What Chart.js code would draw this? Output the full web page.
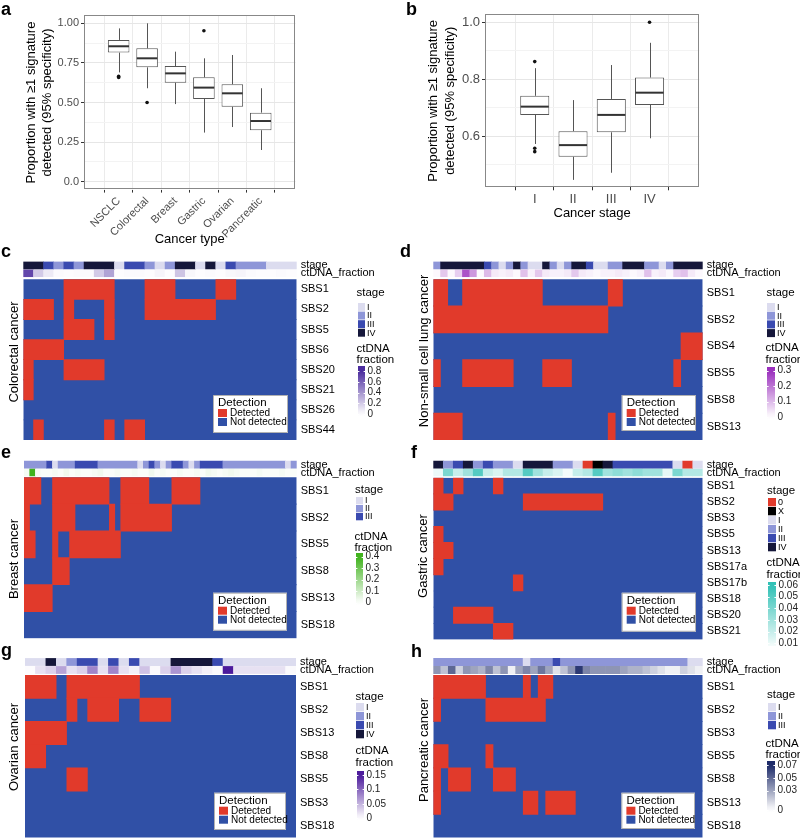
<!DOCTYPE html>
<html>
<head>
<meta charset="utf-8">
<title>Signature detection in ctDNA</title>
<script src="https://cdn.jsdelivr.net/npm/chart.js@4.4.1/dist/chart.umd.min.js"></script>
<style>
  html, body { margin: 0; background: #fff; }
  #fig { position: relative; width: 800px; height: 838px; overflow: hidden; }
  #fig canvas { position: absolute; }
  .tag { position: absolute; font: bold 18px "Liberation Sans", Arial, sans-serif; line-height: 18px; color: #000; }
</style>
</head>
<body>
<div id="fig"></div>
<script>
/* ═══════════════════════════════════════════════
   Mutational signatures detected in ctDNA
   a/b: boxplots, c-h: detection heatmaps
═══════════════════════════════════════════════ */

// ── a: by cancer type ──────────────────────────
const A_TYPES = ['NSCLC', 'Colorectal', 'Breast', 'Gastric', 'Ovarian', 'Pancreatic'];
const A_MIN = [0.69, 0.59, 0.49, 0.31, 0.345, 0.20];
const A_Q1  = [0.815, 0.722, 0.625, 0.522, 0.473, 0.325];
const A_MED = [0.855, 0.779, 0.684, 0.594, 0.558, 0.383];
const A_Q3  = [0.895, 0.842, 0.730, 0.659, 0.615, 0.436];
const A_MAX = [0.968, 1.0, 0.821, 0.779, 0.80, 0.59];
const A_OUT_TYPE = ['NSCLC', 'NSCLC', 'Colorectal', 'Gastric'];
const A_OUT_VAL  = [0.665, 0.658, 0.50, 0.953];
const A_YTICKS  = [0, 0.25, 0.5, 0.75, 1];
const A_YLABELS = ['0.0', '0.25', '0.50', '0.75', '1.00'];
const A_YMINOR  = [0.125, 0.375, 0.625, 0.875];

// ── b: by cancer stage ─────────────────────────
const B_STAGES = ['I', 'II', 'III', 'IV'];
const B_MIN = [0.573, 0.447, 0.472, 0.593];
const B_Q1  = [0.675, 0.528, 0.614, 0.71];
const B_MED = [0.704, 0.569, 0.675, 0.753];
const B_Q3  = [0.742, 0.618, 0.731, 0.806];
const B_MAX = [0.839, 0.727, 0.850, 0.928];
const B_OUT_STAGE = ['I', 'I', 'I', 'IV'];
const B_OUT_VAL   = [0.862, 0.558, 0.546, 1.0];
const B_YTICKS  = [0.6, 0.8, 1.0];
const B_YLABELS = ['0.6', '0.8', '1.0'];
const B_YMINOR  = [0.5, 0.7, 0.9];

const Y_TITLE = ['Proportion with \u22651 signature', 'detected (95% specificity)'];

// ── heatmaps: rows, per-sample stage / ctDNA, detected runs [row, firstCol, lastCol] ──
const C_ROWS = ['SBS1', 'SBS2', 'SBS5', 'SBS6', 'SBS20', 'SBS21', 'SBS26', 'SBS44'];
const C_STAGE = ['IV','IV','III','II','III','II','IV','IV','IV','I','III','III','II','I','II',
                 'IV','IV','I','IV','I','III','II','II','II','I','I','I'];
const C_FRAC = [0.7,0.2,0.08,0.02,0.01,0.02,0.02,0.2,0.35,0.01,0.02,0.02,0.01,0.04,0.01,
                0.22,0.03,0.01,0.02,0.01,0.03,0.04,0.02,0.01,0.01,0.02,0.01];
const C_HITS = [['SBS1',4,8],['SBS1',12,14],['SBS1',19,20],
                ['SBS2',0,2],['SBS2',4,4],['SBS2',8,8],['SBS2',12,18],
                ['SBS5',4,6],['SBS5',8,8],['SBS6',0,3],['SBS20',0,0],['SBS20',4,7],
                ['SBS21',0,0],['SBS44',1,1],['SBS44',8,8],['SBS44',10,11]];
const C_FRAC_TICKS = [0, 0.2, 0.4, 0.6, 0.8];

const D_ROWS = ['SBS1', 'SBS2', 'SBS4', 'SBS5', 'SBS8', 'SBS13'];
const D_STAGE = ['II','IV','IV','IV','IV','IV','IV','III','II','I','II','IV','II','I','I','IV',
                 'II','I','II','IV','IV','III','I','I','II','II','IV','IV','IV','II','II','I',
                 'II','IV','IV','IV','IV'];
const D_FRAC = [0.01,0.08,0.01,0.07,0.25,0.15,0.01,0.1,0.03,0.02,0.03,0.01,0.09,0.02,0.08,0.03,
                0.02,0.02,0.03,0.08,0.03,0.02,0.01,0.02,0.02,0.03,0.02,0.01,0.02,0.09,0.02,0.03,
                0.01,0.07,0.09,0.03,0.01];
const D_HITS = [['SBS1',0,1],['SBS1',4,14],['SBS1',24,25],['SBS2',0,23],['SBS4',34,36],
                ['SBS5',0,0],['SBS5',4,10],['SBS5',15,18],['SBS5',33,33],
                ['SBS13',0,3],['SBS13',24,24]];
const D_FRAC_TICKS = [0, 0.1, 0.2, 0.3];

const E_ROWS = ['SBS1', 'SBS2', 'SBS5', 'SBS8', 'SBS13', 'SBS18'];
const E_STAGE = ['II','II','II','II','III','I','II','II','II','III','III','III','III',
                 'II','II','II','II','II','II','II','I','II','III','II','I','II','III','III',
                 'II','I','II','III','III','III','III',
                 'II','II','II','II','II','II','II','II','II','II','II','I','II'];
const E_FRAC = [0.02,0.4,0.02,0.01,0.01,0.02,0.01,0.03,0.01,0.02,0.01,0.01,
                0.02,0.03,0.01,0.01,0.02,0.01,0.01,0.02,0.01,0.01,0.03,0.01,
                0.02,0.01,0.01,0.02,0.01,0.01,0.02,0.01,0.03,0.02,0.01,0.02,
                0.03,0.02,0.01,0.01,0.01,0.02,0.01,0.01,0.01,0.02,0.01,0.01];
const E_HITS = [['SBS1',0,2],['SBS1',5,14],['SBS1',17,21],['SBS1',26,30],
                ['SBS2',0,0],['SBS2',5,8],['SBS2',15,15],['SBS2',17,25],
                ['SBS5',0,1],['SBS5',5,5],['SBS5',8,16],['SBS8',5,7],['SBS13',0,4]];
const E_FRAC_TICKS = [0, 0.1, 0.2, 0.3, 0.4];

const F_ROWS = ['SBS1','SBS2','SBS3','SBS5','SBS13','SBS17a','SBS17b','SBS18','SBS20','SBS21'];
const F_STAGE = ['IV','II','III','IV','II','III','II','II','I','IV','IV','IV','II','II','I',
                 '0','X','IV','III','III','III','III','III','III','I','0','I'];
const F_FRAC = [0.01,0.04,0.02,0.03,0.05,0.02,0.015,0.025,0.025,0.05,0.03,0.02,0.015,0.008,
                0.02,0.025,0.05,0.03,0.035,0.03,0.035,0.03,0.03,0.012,0.04,0.025,0.025];
const F_HITS = [['SBS1',0,0],['SBS1',2,2],['SBS1',6,6],['SBS2',0,1],['SBS2',9,16],
                ['SBS5',0,0],['SBS13',0,1],['SBS17a',0,0],['SBS17b',8,8],
                ['SBS20',2,5],['SBS21',6,7]];
const F_FRAC_TICKS = [0.01, 0.02, 0.03, 0.04, 0.05, 0.06];

const G_ROWS = ['SBS1', 'SBS2', 'SBS13', 'SBS8', 'SBS5', 'SBS3', 'SBS18'];
const G_STAGE = ['I','I','IV','I','II','III','III','I','III','I','III','I','I','I',
                 'IV','IV','IV','IV','III','I','I','I','I','I','I','I'];
const G_FRAC = [0.002,0.02,0.03,0.06,0.02,0.03,0.08,0.02,0.08,0.02,0.01,0.04,0.004,
                0.03,0.07,0.03,0.02,0.01,0.004,0.15,0.02,0.02,0.02,0.02,0.02,0.004];
const G_HITS = [['SBS1',0,2],['SBS1',4,10],['SBS2',4,4],['SBS2',6,8],['SBS2',11,13],
                ['SBS13',0,3],['SBS8',0,1],['SBS5',4,5]];
const G_FRAC_TICKS = [0, 0.05, 0.1, 0.15];

const H_ROWS = ['SBS1', 'SBS2', 'SBS3', 'SBS5', 'SBS8', 'SBS13', 'SBS18'];
const H_STAGE = ['II','II','II','II','II','II','II','II','II','II','II','II','I','II','II','II',
                 'III','II','II','II','II','II','II','II','II','II','II','II','II','II','II',
                 'II','II','II','I','I'];
const H_FRAC = [0.035,0.02,0.05,0.015,0.035,0.03,0.025,0.04,0.02,0.035,0.005,0.03,0.04,0.03,
                0.045,0.03,0.01,0.02,0.035,0.065,0.04,0.035,0.035,0.035,0.035,0.03,0.025,
                0.025,0.02,0.015,0.01,0.005,0.005,0.015,0.01,0.005];
const H_HITS = [['SBS1',0,6],['SBS1',12,12],['SBS1',14,15],['SBS2',0,0],['SBS2',7,14],
                ['SBS5',0,1],['SBS5',7,7],['SBS8',0,0],['SBS8',2,4],['SBS8',8,10],
                ['SBS13',0,0],['SBS13',12,13],['SBS13',15,18]];
const H_FRAC_TICKS = [0, 0.03, 0.05, 0.07];

const ANN_ROWS = ['stage', 'ctDNA_fraction'];

// ── STYLE ──────────────────────────────────────
const FONT = '"Liberation Sans", Arial, Helvetica, sans-serif';
const RED = '#e13a2b';
const BLUE = '#3050a6';
const STAGE_COLORS = { '0': '#e13a2b', X: '#000000', I: '#dcdcef', II: '#8e96d8', III: '#3a4ab0', IV: '#15173a' };
const AXIS_TEXT = '#4d4d4d';
const GRID_MAJOR = '#e6e6e6';
const GRID_MINOR = '#f3f3f3';

Chart.defaults.font.family = FONT;
Chart.defaults.color = '#000';
Chart.defaults.animation = false;

const fig = document.getElementById('fig');
const font = (size) => `${size}px ${FONT}`;

function makeCanvas(left, top, w, h) {
  const c = document.createElement('canvas');
  c.width = w; c.height = h;
  Object.assign(c.style, { left: left + 'px', top: top + 'px', width: w + 'px', height: h + 'px' });
  fig.appendChild(c);
  return c;
}

function hexRgb(h) {
  return [1, 3, 5].map(i => parseInt(h.slice(i, i + 2), 16));
}

// white -> ramp colour, linear in value
function ramp(v, r) {
  const t = Math.min(1, Math.max(0, (v - r.lo) / (r.hi - r.lo)));
  const c = hexRgb(r.color);
  const m = c.map(k => Math.round(255 + (k - 255) * t));
  return `rgb(${m[0]},${m[1]},${m[2]})`;
}

// consecutive equal values -> [start, end) runs
function runs(arr) {
  const out = [];
  let s = 0;
  for (let i = 1; i <= arr.length; i++) {
    if (i === arr.length || arr[i] !== arr[s]) { out.push({ s, e: i, v: arr[s] }); s = i; }
  }
  return out;
}

// ── BOXPLOTS (a, b) ────────────────────────────
// whiskers and medians drawn through the chart scales
function boxDetails(st) {
  return {
    id: 'boxDetails',
    beforeDatasetsDraw(chart) {
      const { ctx, scales: { x, y } } = chart;
      ctx.save();
      ctx.strokeStyle = '#555';
      ctx.lineWidth = 1;
      st.min.forEach((lo, i) => {
        const px = Math.round(x.getPixelForValue(i + 1)) + 0.5;
        ctx.beginPath();
        ctx.moveTo(px, y.getPixelForValue(lo));
        ctx.lineTo(px, y.getPixelForValue(st.q1[i]));
        ctx.moveTo(px, y.getPixelForValue(st.q3[i]));
        ctx.lineTo(px, y.getPixelForValue(st.max[i]));
        ctx.stroke();
      });
      ctx.restore();
    },
    afterDatasetsDraw(chart) {
      const { ctx, chartArea: a, scales: { y } } = chart;
      const boxes = chart.getDatasetMeta(0).data;
      ctx.save();
      ctx.strokeStyle = '#333';
      ctx.lineWidth = 2;
      boxes.forEach((b, i) => {
        const py = y.getPixelForValue(st.med[i]);
        ctx.beginPath();
        ctx.moveTo(b.x - b.width / 2 + 0.5, py);
        ctx.lineTo(b.x + b.width / 2 - 0.5, py);
        ctx.stroke();
      });
      ctx.strokeStyle = '#888';
      ctx.lineWidth = 1;
      ctx.strokeRect(Math.round(a.left) + 0.5, Math.round(a.top) + 0.5,
                     Math.round(a.right - a.left) - 1, Math.round(a.bottom - a.top) - 1);
      ctx.restore();
    }
  };
}

function boxChart(cv, o) {
  const isMajor = v => o.yticks.includes(v);
  return new Chart(cv, {
    type: 'bar',
    data: {
      labels: o.cats,
      datasets: [
        {
          data: o.cats.map((c, i) => ({ x: i + 1, y: [o.q1[i], o.q3[i]] })),
          backgroundColor: '#fff', borderColor: '#555', borderWidth: 1, borderSkipped: false,
          barPercentage: 0.76, categoryPercentage: 1
        },
        {
          type: 'line', showLine: false,
          data: o.outCat.map((c, i) => ({ x: o.cats.indexOf(c) + 1, y: o.outVal[i] })),
          pointRadius: 1.8, pointBackgroundColor: '#111', pointBorderWidth: 0
        }
      ]
    },
    options: {
      responsive: false, events: [],
      layout: { padding: o.pad },
      plugins: { legend: { display: false }, tooltip: { enabled: false } },
      scales: {
        x: {
          type: 'linear', min: 0.4, max: o.cats.length + 0.6,
          afterBuildTicks: s => { s.ticks = o.cats.map((c, i) => ({ value: i + 1 })); },
          grid: { color: '#ebebeb', tickColor: '#333', tickLength: 3 },
          border: { display: false },
          ticks: { autoSkip: false, minRotation: o.rot, maxRotation: o.rot, padding: o.xPad,
                   color: AXIS_TEXT, font: { size: o.xSize }, callback: v => o.cats[v - 1] },
          title: { display: true, text: o.xTitle, color: '#000', font: { size: 13, lineHeight: 1.25 },
                   padding: { top: 0, bottom: o.xTitlePad } },
          afterFit: s => { s.height = o.xHeight; }
        },
        y: {
          min: o.ymin, max: o.ymax,
          afterBuildTicks: s => {
            s.ticks = o.yticks.concat(o.yminor).sort((p, q) => p - q).map(v => ({ value: v }));
          },
          grid: {
            color: c => isMajor(c.tick.value) ? GRID_MAJOR : GRID_MINOR,
            tickColor: c => isMajor(c.tick.value) ? '#333' : 'rgba(0,0,0,0)',
            tickLength: 3
          },
          border: { display: false },
          ticks: {
            autoSkip: false, padding: 2, color: AXIS_TEXT, font: { size: o.ySize },
            callback: v => { const k = o.yticks.indexOf(v); return k < 0 ? '' : o.ylabels[k]; }
          },
          title: { display: true, text: Y_TITLE, color: '#000', font: { size: 13, lineHeight: o.titleLH },
                   padding: { top: o.yTitlePad, bottom: 0 } },
          afterFit: s => { s.width = o.yWidth; }
        }
      }
    },
    plugins: [boxDetails(o)]
  });
}

boxChart(makeCanvas(0, 0, 305, 250), {
  cats: A_TYPES, min: A_MIN, q1: A_Q1, med: A_MED, q3: A_Q3, max: A_MAX,
  outCat: A_OUT_TYPE, outVal: A_OUT_VAL,
  yticks: A_YTICKS, ylabels: A_YLABELS, yminor: A_YMINOR, ymin: -0.05, ymax: 1.05,
  pad: { top: 15.4, right: 9.6, left: 0, bottom: 0 },
  rot: 45, xPad: 2, xSize: 11, ySize: 11, xTitle: 'Cancer type', xTitlePad: 2, xHeight: 60.4,
  yTitlePad: 23, yWidth: 84, titleLH: 1.25
});

boxChart(makeCanvas(400, 0, 310, 250), {
  cats: B_STAGES, min: B_MIN, q1: B_Q1, med: B_MED, q3: B_Q3, max: B_MAX,
  outCat: B_OUT_STAGE, outVal: B_OUT_VAL,
  yticks: B_YTICKS, ylabels: B_YLABELS, yminor: B_YMINOR, ymin: 0.421, ymax: 1.028,
  pad: { top: 14.3, right: 10.7, left: 0, bottom: 0 },
  rot: 0, xPad: 1, xSize: 13, ySize: 13, xTitle: 'Cancer stage', xTitlePad: 28.5, xHeight: 62.7,
  yTitlePad: 24.5, yWidth: 85, titleLH: 1.31
});

// ── HEATMAPS (c-h) ─────────────────────────────
const PANELS = [
  { name: 'Colorectal cancer', rows: C_ROWS, stage: C_STAGE, frac: C_FRAC, hits: C_HITS,
    keys: ['I', 'II', 'III', 'IV'], fracTicks: C_FRAC_TICKS, ramp: { lo: 0, hi: 0.8, color: '#4b2c9e' },
    x0: 0, heatL: 23.3, heatR: 296.7, annTop: 261.3, annBot: 277.3, mainTop: 279.3, mainBot: 440,
    sideX: 14, sideY: 352,
    stageLeg: { tx: 356.5, ty: 293, x: 358, top: 303, w: 7, h: 8.6 },
    fracLeg: { x: 358, t1: 349, t2: 360, w: 7, top: 366, bot: 416, yHi: 371, yLo: 414 },
    det: { x: 213, y: 395, w: 75, h: 38 } },
  { name: 'Non-small cell lung cancer', rows: D_ROWS, stage: D_STAGE, frac: D_FRAC, hits: D_HITS,
    keys: ['I', 'II', 'III', 'IV'], fracTicks: D_FRAC_TICKS, ramp: { lo: 0, hi: 0.3, color: '#9a2fbd' },
    x0: 400, heatL: 433.3, heatR: 702.7, annTop: 261.3, annBot: 277.3, mainTop: 279.3, mainBot: 440,
    sideX: 424, sideY: 351,
    stageLeg: { tx: 766.5, ty: 293, x: 767, top: 303, w: 8, h: 8.7 },
    fracLeg: { x: 767, t1: 348, t2: 360, w: 8, top: 367, bot: 419, yHi: 370.7, yLo: 417 },
    det: { x: 621.7, y: 395, w: 74.3, h: 36 } },
  { name: 'Breast cancer', rows: E_ROWS, stage: E_STAGE, frac: E_FRAC, hits: E_HITS,
    keys: ['I', 'II', 'III'], fracTicks: E_FRAC_TICKS, ramp: { lo: 0, hi: 0.4, color: '#3fb21c' },
    x0: 0, heatL: 24, heatR: 296.7, annTop: 460.5, annBot: 476.5, mainTop: 477.3, mainBot: 638.3,
    sideX: 14, sideY: 559,
    stageLeg: { tx: 355, ty: 490, x: 356, top: 497, w: 7, h: 8 },
    fracLeg: { x: 356, t1: 536.7, t2: 547.7, w: 7, top: 553, bot: 605, yHi: 556.7, yLo: 602.7 },
    det: { x: 213, y: 592.7, w: 74, h: 38 } },
  { name: 'Gastric cancer', rows: F_ROWS, stage: F_STAGE, frac: F_FRAC, hits: F_HITS,
    keys: ['0', 'X', 'I', 'II', 'III', 'IV'], fracTicks: F_FRAC_TICKS, ramp: { lo: 0.005, hi: 0.06, color: '#2fc0b5' },
    x0: 400, heatL: 433.3, heatR: 702.7, annTop: 460.5, annBot: 476.5, mainTop: 477.7, mainBot: 639.5,
    sideX: 423, sideY: 556,
    stageLeg: { tx: 767, ty: 490.7, x: 768, top: 498, w: 8, h: 9 },
    fracLeg: { x: 768, t1: 563.3, t2: 575, w: 8, top: 582, bot: 646, yHi: 585, yLo: 643.3 },
    det: { x: 621.7, y: 592.7, w: 74.3, h: 39 } },
  { name: 'Ovarian cancer', rows: G_ROWS, stage: G_STAGE, frac: G_FRAC, hits: G_HITS,
    keys: ['I', 'II', 'III', 'IV'], fracTicks: G_FRAC_TICKS, ramp: { lo: 0, hi: 0.15, color: '#4c1b9c' },
    x0: 0, heatL: 25, heatR: 296, annTop: 658, annBot: 674, mainTop: 675, mainBot: 837.5,
    sideX: 14, sideY: 747,
    stageLeg: { tx: 355.5, ty: 697.3, x: 356, top: 703, w: 8, h: 9 },
    fracLeg: { x: 357, t1: 750.7, t2: 762.7, w: 7, top: 771, bot: 820, yHi: 775, yLo: 818.3 },
    det: { x: 214, y: 792.7, w: 72, h: 37.3 } },
  { name: 'Pancreatic cancer', rows: H_ROWS, stage: H_STAGE, frac: H_FRAC, hits: H_HITS,
    keys: ['I', 'II', 'III'], fracTicks: H_FRAC_TICKS, ramp: { lo: 0, hi: 0.07, color: '#1c2a68' },
    x0: 400, heatL: 433.3, heatR: 702.7, annTop: 658, annBot: 674, mainTop: 675, mainBot: 837.5,
    sideX: 424, sideY: 750,
    stageLeg: { tx: 767, ty: 695, x: 768, top: 703, w: 8, h: 9 },
    fracLeg: { x: 767, t1: 744, t2: 755, w: 8, top: 761, bot: 812, yHi: 765, yLo: 810 },
    det: { x: 621.4, y: 792.7, w: 73.6, h: 36.3 } }
];

function heatOptions(p, padTop, padBot) {
  return {
    indexAxis: 'y', responsive: false, events: [],
    layout: { padding: { left: p.heatL - p.x0, right: 0, top: padTop, bottom: padBot } },
    plugins: { legend: { display: false }, tooltip: { enabled: false } },
    scales: {
      x: { type: 'linear', display: false, min: 0, max: p.stage.length },
      y: {
        position: 'right',
        grid: { display: true, drawOnChartArea: false, color: 'rgba(0,0,0,0)', drawTicks: true, tickLength: 4 },
        border: { display: false },
        ticks: { autoSkip: false, padding: 0, color: '#000', font: { size: 11 } },
        afterFit: s => { s.width = p.x0 + 400 - p.heatR; }
      }
    }
  };
}

// side title, stage key, ctDNA colour bar, detection key
function heatExtras(p, ox, oy) {
  return {
    id: 'heatExtras',
    afterDraw(chart) {
      const ctx = chart.ctx;
      ctx.save();
      ctx.translate(-ox, -oy);
      ctx.fillStyle = '#000';
      ctx.textBaseline = 'middle';

      ctx.save();
      ctx.translate(p.sideX, p.sideY);
      ctx.rotate(-Math.PI / 2);
      ctx.font = font(13);
      ctx.textAlign = 'center';
      ctx.fillText(p.name, 0, 0);
      ctx.restore();

      const s = p.stageLeg;
      ctx.textAlign = 'left';
      ctx.font = font(11.5);
      ctx.fillText('stage', s.tx, s.ty);
      ctx.font = font(9);
      p.keys.forEach((k, i) => {
        const y = s.top + i * s.h;
        ctx.fillStyle = STAGE_COLORS[k];
        ctx.fillRect(s.x, y, s.w, s.h - 0.7);
        ctx.fillStyle = '#000';
        ctx.fillText(k, s.x + s.w + 2, y + s.h / 2);
      });

      const f = p.fracLeg;
      ctx.font = font(11.5);
      ctx.fillText('ctDNA', f.x - 1.5, f.t1);
      ctx.fillText('fraction', f.x - 1.5, f.t2);
      const t0 = p.fracTicks[0], tN = p.fracTicks[p.fracTicks.length - 1];
      const valAt = y => t0 + (y - f.yLo) / (f.yHi - f.yLo) * (tN - t0);
      const yAt = v => f.yLo + (v - t0) / (tN - t0) * (f.yHi - f.yLo);
      const g = ctx.createLinearGradient(0, f.bot, 0, f.top);
      for (let k = 0; k <= 10; k++) {
        g.addColorStop(k / 10, ramp(valAt(f.bot + (f.top - f.bot) * k / 10), p.ramp));
      }
      ctx.fillStyle = g;
      ctx.fillRect(f.x, f.top, f.w, f.bot - f.top);
      ctx.strokeStyle = '#fff';
      ctx.lineWidth = 1;
      ctx.font = font(10);
      p.fracTicks.forEach(v => {
        const y = Math.round(yAt(v)) + 0.5;
        ctx.beginPath();
        ctx.moveTo(f.x, y); ctx.lineTo(f.x + f.w * 0.2, y);
        ctx.moveTo(f.x + f.w * 0.8, y); ctx.lineTo(f.x + f.w, y);
        ctx.stroke();
        ctx.fillStyle = '#222';
        ctx.fillText(String(v), f.x + f.w + 2.5, yAt(v));
      });

      const d = p.det;
      ctx.fillStyle = '#fff';
      ctx.fillRect(d.x, d.y, d.w, d.h);
      ctx.strokeStyle = '#a0a0a0';
      ctx.lineWidth = 0.8;
      ctx.strokeRect(d.x + 0.5, d.y + 0.5, d.w - 1, d.h - 1);
      ctx.fillStyle = '#000';
      ctx.font = font(11.5);
      ctx.fillText('Detection', d.x + 5, d.y + 7.7);
      ctx.font = font(10);
      chart.data.datasets.forEach((ds, i) => {
        const y = d.y + 14 + i * 9;
        ctx.fillStyle = ds.backgroundColor;
        ctx.fillRect(d.x + 5, y, 9, 8);
        ctx.fillStyle = '#000';
        ctx.fillText(ds.label, d.x + 17, y + 4.3);
      });
      ctx.restore();
    }
  };
}

PANELS.forEach(p => {
  // annotation strip: stage + ctDNA fraction per sample
  const aTop = Math.floor(p.annTop) - 14;
  const aBot = Math.ceil(p.annBot) + 14;
  const stageRuns = runs(p.stage);
  new Chart(makeCanvas(p.x0, aTop, 400, aBot - aTop), {
    type: 'bar',
    data: {
      labels: ANN_ROWS,
      datasets: [
        { data: stageRuns.map(r => ({ y: 'stage', x: [r.s, r.e] })),
          backgroundColor: stageRuns.map(r => STAGE_COLORS[r.v]),
          grouped: false, barPercentage: 0.9, categoryPercentage: 1, inflateAmount: 0.3 },
        { data: p.frac.map((v, i) => ({ y: 'ctDNA_fraction', x: [i, i + 1] })),
          backgroundColor: p.frac.map(v => ramp(v, p.ramp)),
          grouped: false, barPercentage: 0.9, categoryPercentage: 1, inflateAmount: 0.3 }
      ]
    },
    options: heatOptions(p, p.annTop - aTop, aBot - p.annBot)
  });

  // detection heatmap: red runs on top (order 0), blue rows underneath (order 1);
  // bars a touch taller than the row so neighbouring rows leave no seam
  const mTop = Math.floor(p.annTop) - 16;
  const mBot = Math.ceil(p.mainBot) + 14;
  new Chart(makeCanvas(p.x0, mTop, 400, mBot - mTop), {
    type: 'bar',
    data: {
      labels: p.rows,
      datasets: [
        { label: 'Detected', data: p.hits.map(([r, s, e]) => ({ y: r, x: [s, e + 1] })),
          backgroundColor: RED, grouped: false, barPercentage: 1.02, categoryPercentage: 1,
          inflateAmount: 0.2, order: 0 },
        { label: 'Not detected', data: p.rows.map(r => ({ y: r, x: [0, p.stage.length] })),
          backgroundColor: BLUE, grouped: false, barPercentage: 1.04, categoryPercentage: 1, order: 1 }
      ]
    },
    options: heatOptions(p, p.mainTop - mTop, mBot - p.mainBot),
    plugins: [heatExtras(p, p.x0, mTop)]
  });
});

// ── PANEL LETTERS ──────────────────────────────
[['a', 1, 0], ['b', 406, 0], ['c', 1, 242], ['d', 400, 242],
 ['e', 1, 443], ['f', 411, 443], ['g', 1, 641], ['h', 411, 642]].forEach(([t, x, y]) => {
  const el = document.createElement('div');
  el.className = 'tag';
  el.textContent = t;
  el.style.left = x + 'px';
  el.style.top = y + 'px';
  fig.appendChild(el);
});
</script>
</body>
</html>
